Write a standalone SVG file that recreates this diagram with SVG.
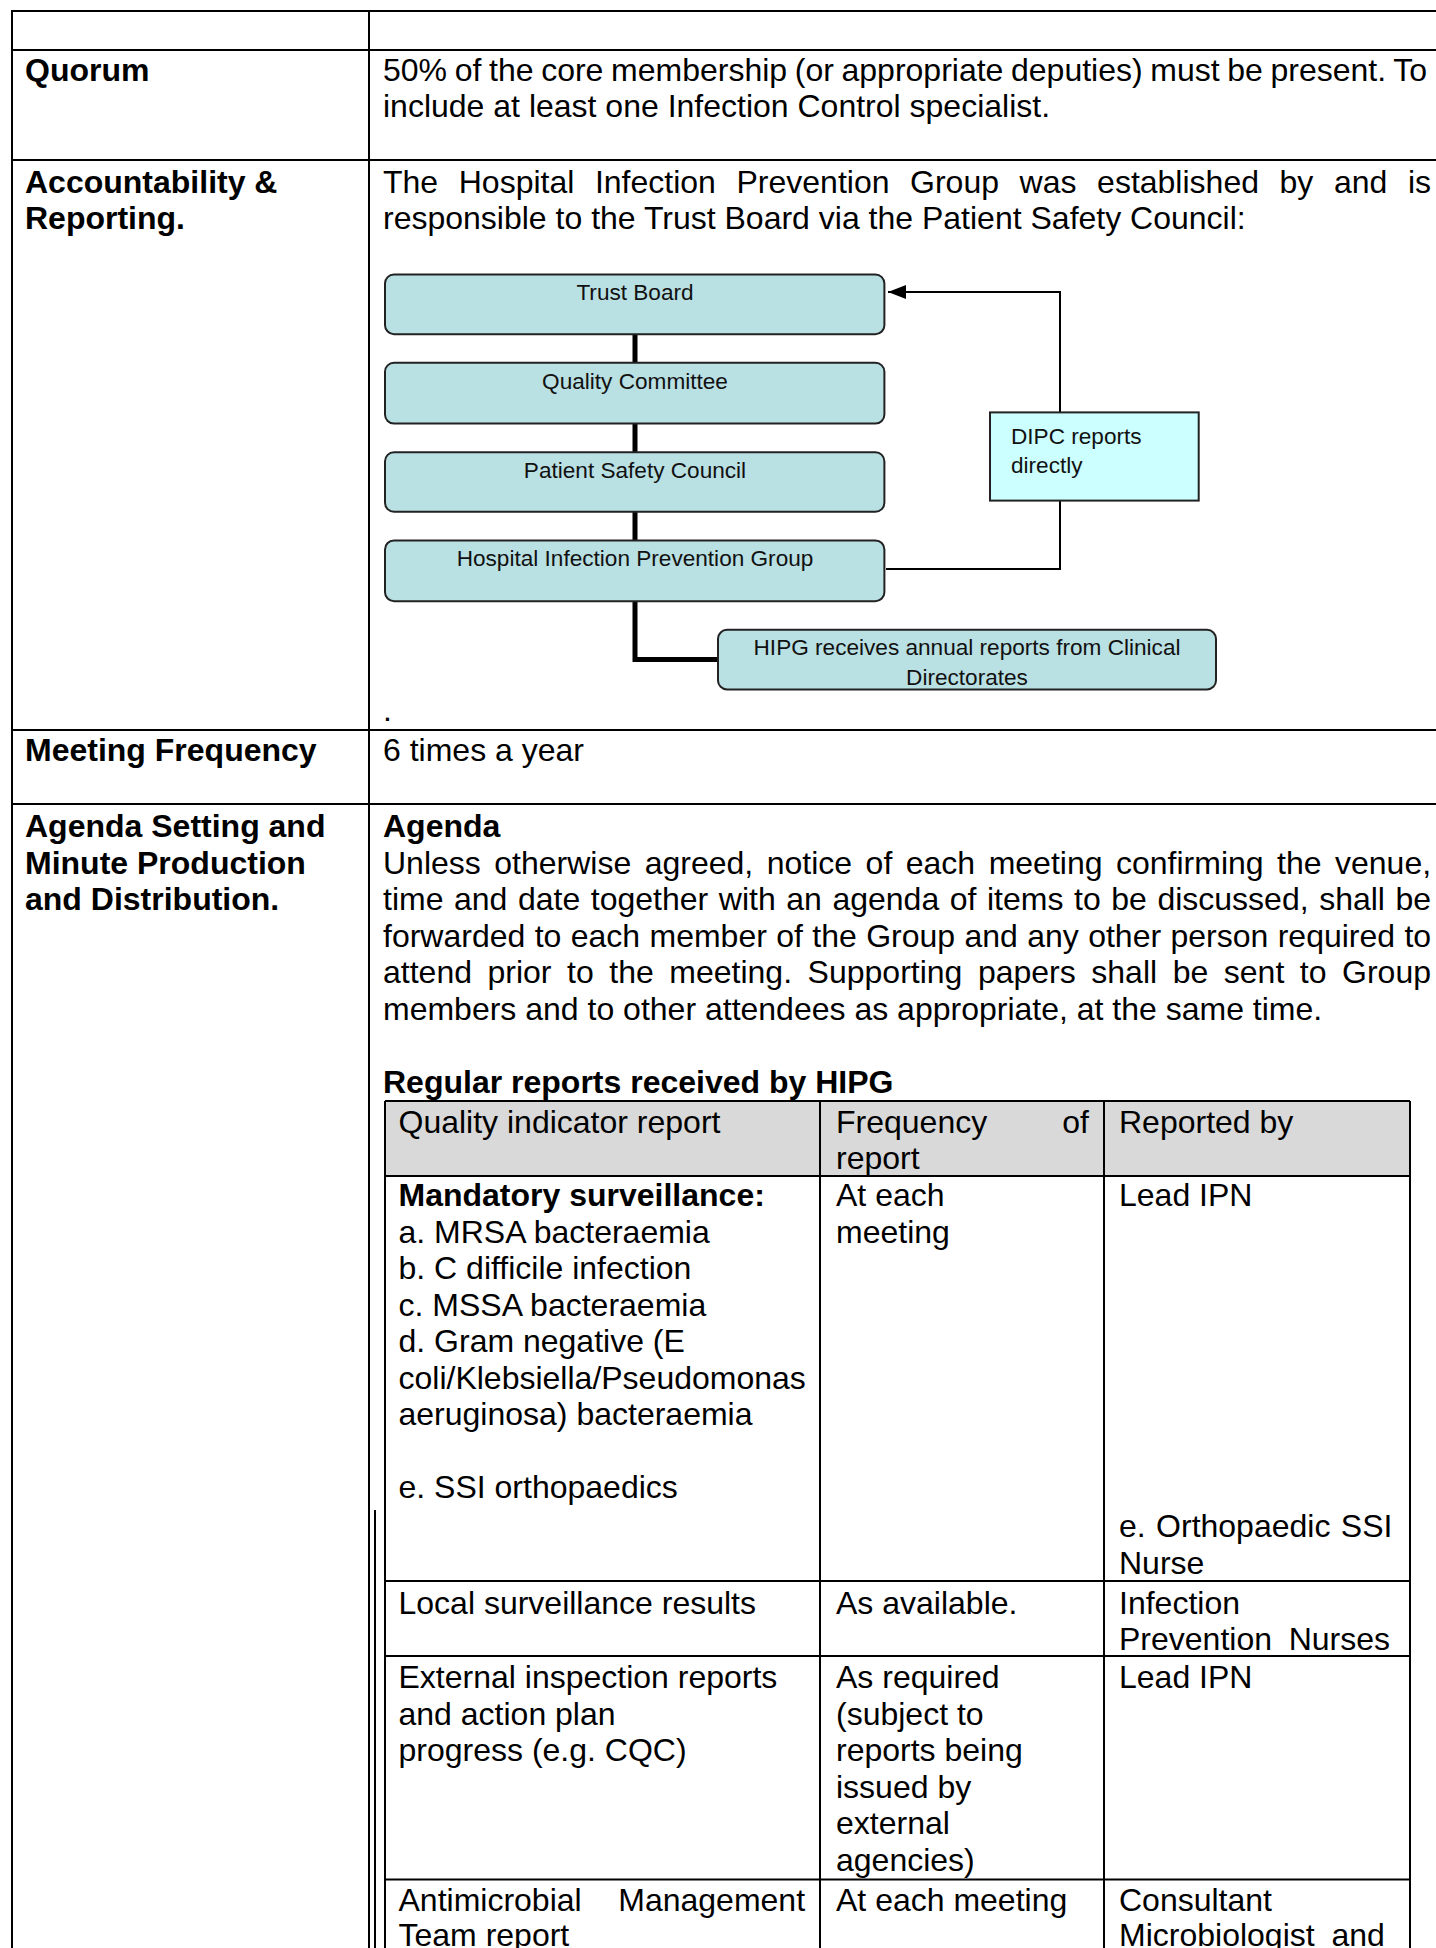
<svg xmlns="http://www.w3.org/2000/svg" width="1436" height="1948" viewBox="0 0 1436 1948">
<style>
text{font-family:"Liberation Sans",Arial,sans-serif;fill:#000}
.b{font-size:32px}
.bd{font-size:32px;font-weight:bold}
.d{font-size:22.6px;fill:#111}
.mid{text-anchor:middle}
.end{text-anchor:end}
.tl{stroke:#000;stroke-width:2;fill:none}
.box{fill:#b9e0e3;stroke:#222;stroke-width:2}
.dipc{fill:#ccffff;stroke:#222;stroke-width:2}
.thick{stroke:#000;stroke-width:5;fill:none}
.thin{stroke:#000;stroke-width:2;fill:none}
.hdr{fill:#d9d9d9}
</style>
<defs>
<marker id="ah" markerUnits="userSpaceOnUse" markerWidth="18" markerHeight="14" refX="18" refY="7" orient="auto">
<path d="M0,0 L18,7 L0,14 z" fill="#000"/>
</marker>
</defs>
<rect x="0" y="0" width="1436" height="1948" fill="#fff"/>

<g id="outer-table">
<rect class="hdr" x="385" y="1101" width="1025" height="75"/>
<path class="tl" d="M11,11H1436 M11,50H1436 M11,160H1436 M11,730H1436 M11,804H1436 M12,11V1948 M369,11V1948 M375,1510V1948"/>
</g>

<g id="inner-table">
<path class="tl" d="M385,1101H1410 M385,1176H1410 M385,1581H1410 M385,1656H1410 M385,1879.5H1410 M385,1101V1948 M820,1101V1948 M1104,1101V1948 M1410,1101V1948"/>
</g>

<g id="left-labels">
<text class="bd" x="25" y="81">Quorum</text>
<text class="bd" x="25" y="192.5">Accountability &amp;</text>
<text class="bd" x="25" y="229">Reporting.</text>
<text class="bd" x="25" y="761">Meeting Frequency</text>
<text class="bd" x="25" y="837">Agenda Setting and</text>
<text class="bd" x="25" y="873.5">Minute Production</text>
<text class="bd" x="25" y="910">and Distribution.</text>
</g>

<g id="right-texts">
<text class="b" x="383" y="81" word-spacing="-1.25">50% of the core membership (or appropriate deputies) must be present. To</text>
<text class="b" x="383" y="117">include at least one Infection Control specialist.</text>
<text class="b" x="383" y="192.5" word-spacing="11.7">The Hospital Infection Prevention Group was established by and is</text>
<text class="b" x="383" y="229">responsible to the Trust Board via the Patient Safety Council:</text>
<text class="b" x="383" y="721">.</text>
<text class="b" x="383" y="761">6 times a year</text>
<text class="bd" x="383" y="837">Agenda</text>
<text class="b" x="383" y="873.5" word-spacing="4.59">Unless otherwise agreed, notice of each meeting confirming the venue,</text>
<text class="b" x="383" y="910" word-spacing="1.67">time and date together with an agenda of items to be discussed, shall be</text>
<text class="b" x="383" y="946.5" word-spacing="0.48">forwarded to each member of the Group and any other person required to</text>
<text class="b" x="383" y="983" word-spacing="6.65">attend prior to the meeting. Supporting papers shall be sent to Group</text>
<text class="b" x="383" y="1019.5">members and to other attendees as appropriate, at the same time.</text>
<text class="bd" x="383" y="1093">Regular reports received by HIPG</text>
</g>

<g id="report-table-text">
<text class="b" x="398.5" y="1133">Quality indicator report</text>
<text class="b" x="836" y="1133">Frequency</text>
<text class="b end" x="1089" y="1133">of</text>
<text class="b" x="836" y="1169">report</text>
<text class="b" x="1119" y="1133">Reported by</text>

<text class="bd" x="398.5" y="1206">Mandatory surveillance:</text>
<text class="b" x="398.5" y="1242.5">a. MRSA bacteraemia</text>
<text class="b" x="398.5" y="1279">b. C difficile infection</text>
<text class="b" x="398.5" y="1315.5">c. MSSA bacteraemia</text>
<text class="b" x="398.5" y="1352">d. Gram negative (E</text>
<text class="b" x="398.5" y="1388.5">coli/Klebsiella/Pseudomonas</text>
<text class="b" x="398.5" y="1425">aeruginosa) bacteraemia</text>
<text class="b" x="398.5" y="1498">e. SSI orthopaedics</text>
<text class="b" x="836" y="1206">At each</text>
<text class="b" x="836" y="1242.5">meeting</text>
<text class="b" x="1119" y="1206">Lead IPN</text>
<text class="b" x="1119" y="1537" word-spacing="1.5">e. Orthopaedic SSI</text>
<text class="b" x="1119" y="1574">Nurse</text>

<text class="b" x="398.5" y="1613.5">Local surveillance results</text>
<text class="b" x="836" y="1613.5">As available.</text>
<text class="b" x="1119" y="1613.5">Infection</text>
<text class="b" x="1119" y="1650" word-spacing="7.8">Prevention Nurses</text>

<text class="b" x="398.5" y="1688">External inspection reports</text>
<text class="b" x="398.5" y="1724.5">and action plan</text>
<text class="b" x="398.5" y="1761">progress (e.g. CQC)</text>
<text class="b" x="836" y="1688">As required</text>
<text class="b" x="836" y="1724.5">(subject to</text>
<text class="b" x="836" y="1761">reports being</text>
<text class="b" x="836" y="1797.5">issued by</text>
<text class="b" x="836" y="1834">external</text>
<text class="b" x="836" y="1870.5">agencies)</text>
<text class="b" x="1119" y="1688">Lead IPN</text>

<text class="b" x="398.5" y="1910.5" word-spacing="27.7">Antimicrobial Management</text>
<text class="b" x="398.5" y="1946">Team report</text>
<text class="b" x="836" y="1910.5">At each meeting</text>
<text class="b" x="1119" y="1910.5">Consultant</text>
<text class="b" x="1119" y="1946" word-spacing="8">Microbiologist and</text>
</g>

<g id="connectors">
<path class="thick" d="M635,334V363 M635,424V452 M635,512V540"/>
<path class="thick" d="M635,601V659.6H718"/>
<path class="thin" d="M1060,412.4V292H888" marker-end="url(#ah)"/>
<path class="thin" d="M886,569H1060V500.6"/>
</g>

<g id="node-trust-board">
<rect class="box" x="385" y="274.5" width="499.4" height="59.7" rx="9"/>
<text class="d mid" x="635" y="300">Trust Board</text>
</g>
<g id="node-quality-committee">
<rect class="box" x="385" y="362.7" width="499.4" height="60.9" rx="9"/>
<text class="d mid" x="635" y="389">Quality Committee</text>
</g>
<g id="node-patient-safety-council">
<rect class="box" x="385" y="452.2" width="499.4" height="59.6" rx="9"/>
<text class="d mid" x="635" y="477.5">Patient Safety Council</text>
</g>
<g id="node-hipg">
<rect class="box" x="385" y="540.4" width="499.4" height="60.8" rx="9"/>
<text class="d mid" x="635" y="565.7">Hospital Infection Prevention Group</text>
</g>
<g id="node-hipg-receives">
<rect class="box" x="718" y="629.8" width="498" height="59.6" rx="9"/>
<text class="d mid" x="967" y="655">HIPG receives annual reports from Clinical</text>
<text class="d mid" x="967" y="685">Directorates</text>
</g>
<g id="node-dipc">
<rect class="dipc" x="990" y="412.4" width="208.7" height="88.2"/>
<text class="d" x="1011" y="444">DIPC reports</text>
<text class="d" x="1011" y="472.6">directly</text>
</g>
</svg>
